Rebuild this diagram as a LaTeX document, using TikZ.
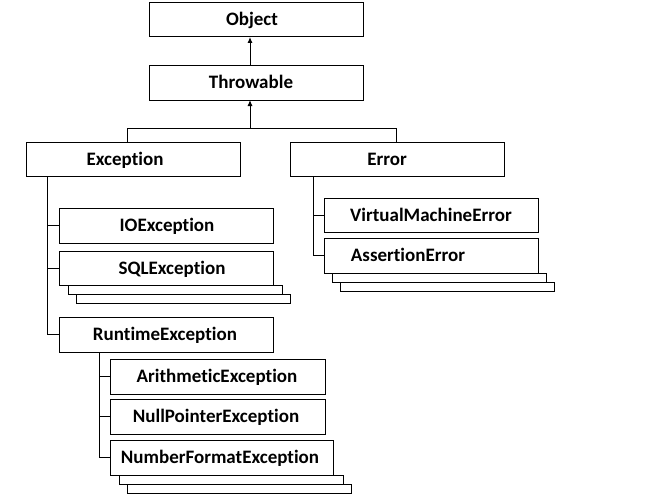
\documentclass[tikz,border=0pt]{standalone}
\usepackage{fontspec}
\setmainfont[RawFeature={-liga}]{Carlito}
\usetikzlibrary{arrows.meta}
\begin{document}
\begin{tikzpicture}[x=1pt,y=-1pt,line width=1pt,
  box/.style={draw,fill=white,inner sep=0pt,outer sep=0pt,minimum width=214pt,minimum height=34pt},
  shd/.style={box,minimum height=9pt},
  lbl/.style={font=\bfseries\fontsize{19}{21}\selectfont,inner sep=0pt,anchor=base},
  arr/.style={-{Latex[length=6pt,width=5pt]}}]
\useasboundingbox[fill=white] (0,0) rectangle (671,503);
% stacked shadows
\node[shd] (sql3) at (183.5,298.5) {};
\node[shd] (sql2) at (175,289.5) {};
\node[shd] (ae3) at (447.5,287) {};
\node[shd] (ae2) at (439.5,277.5) {};
\node[shd,minimum width=224pt] (nf3) at (239,488.5) {};
\node[shd,minimum width=224pt] (nf2) at (231,479.5) {};
% boxes
\node[box] (obj) at (256,20) {};
\node[box,minimum height=35pt] (thr) at (256,82.5) {};
\node[box] (exc) at (133,159) {};
\node[box] (err) at (397,159) {};
\node[box,minimum height=35pt] (io) at (166,225.5) {};
\node[box] (sql) at (166,268) {};
\node[box] (vm) at (431,215) {};
\node[box,minimum height=35pt] (ae) at (431,255.5) {};
\node[box,minimum height=35pt] (rt) at (166,334.5) {};
\node[box,minimum height=35pt,minimum width=215pt] (ar) at (217.5,376.5) {};
\node[box,minimum height=35pt,minimum width=215pt] (np) at (217.5,416.5) {};
\node[box,minimum height=35pt,minimum width=223pt] (nf) at (221.5,457.5) {};
% labels
\node[lbl] (tobj) at (252,26) {Object};
\node[lbl] (tthr) at (251,88.5) {Throwable};
\node[lbl] (texc) at (125,165) {Exception};
\node[lbl] (terr) at (387,165) {Error};
\node[lbl] (tio) at (167,231.5) {IOException};
\node[lbl] (tsql) at (172,274) {SQLException};
\node[lbl] (tvm) at (431,221) {VirtualMachineError};
\node[lbl] (tae) at (408,261.5) {AssertionError};
\node[lbl] (trt) at (165,340.5) {RuntimeException};
\node[lbl] (tar) at (217,382.5) {ArithmeticException};
\node[lbl] (tnp) at (216,422.5) {NullPointerException};
\node[lbl] (tnf) at (220,463.5) {NumberFormatException};
% connectors
\coordinate (bar) at (250,128);
\coordinate (ex) at (127,128);
\coordinate (er) at (396,128);
\coordinate (es) at (47,176);
\coordinate (rs) at (99,352);
\coordinate (vs) at (313,176);
\draw[arr] (thr.north -| bar) -- (obj.south -| bar);
\draw[arr] (bar) -- (thr.south -| bar);
\draw (exc.north -| ex) |- (er) -- (err.north -| er);
\draw (es) |- (rt.west);
\draw (es |- io.west) -- (io.west);
\draw (es |- sql.west) -- (sql.west);
\draw (rs) |- (nf.west);
\draw (rs |- ar.west) -- (ar.west);
\draw (rs |- np.west) -- (np.west);
\draw (vs) |- (ae.west);
\draw (vs |- vm.west) -- (vm.west);
\end{tikzpicture}
\end{document}
